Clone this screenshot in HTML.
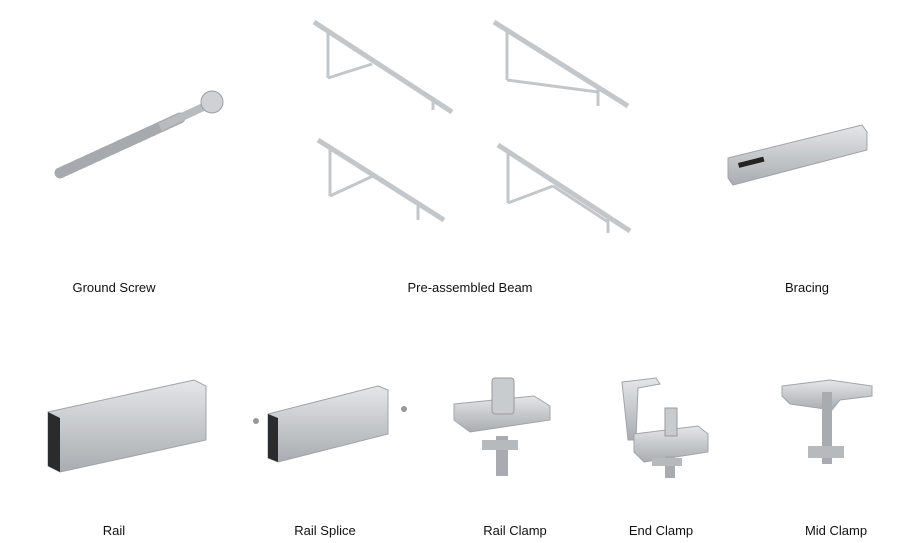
<!DOCTYPE html>
<html><head><meta charset="utf-8"><style>
body{margin:0;width:900px;height:543px;background:#fff;overflow:hidden;position:relative;font-family:"Liberation Sans",Arial,sans-serif;}
.l{position:absolute;font-size:13px;color:#111;transform:translateX(-50%);white-space:nowrap}
svg{position:absolute;left:0;top:0}
</style></head><body>
<svg width="900" height="543" viewBox="0 0 900 543">
<defs>
<linearGradient id="m" x1="0" y1="0" x2="0" y2="1"><stop offset="0" stop-color="#e4e6e8"/><stop offset="1" stop-color="#a9adb1"/></linearGradient>
</defs>
<!-- Ground screw -->
<line x1="60" y1="173" x2="180" y2="118" stroke="#a6aaae" stroke-width="11" stroke-linecap="round" stroke-dasharray="3 2"/>
<line x1="160" y1="127" x2="212" y2="103" stroke="#b8bcbf" stroke-width="8"/>
<circle cx="212" cy="102" r="11" fill="#cfd2d4" stroke="#9a9ea2"/>
<!-- Beams -->
<g stroke="#c4c7ca" fill="none">
<line x1="314" y1="22" x2="452" y2="112" stroke-width="5"/><line x1="328" y1="32" x2="328" y2="78" stroke-width="3"/><line x1="328" y1="78" x2="372" y2="64" stroke-width="3"/><line x1="433" y1="100" x2="433" y2="110" stroke-width="3"/>
<line x1="494" y1="22" x2="628" y2="106" stroke-width="5"/><line x1="507" y1="30" x2="507" y2="80" stroke-width="3"/><line x1="507" y1="80" x2="598" y2="92" stroke-width="3"/><line x1="507" y1="30" x2="598" y2="92" stroke-width="0"/><line x1="598" y1="88" x2="598" y2="106" stroke-width="3"/>
<line x1="318" y1="140" x2="444" y2="220" stroke-width="5"/><line x1="330" y1="148" x2="330" y2="196" stroke-width="3"/><line x1="330" y1="196" x2="373" y2="176" stroke-width="3"/><line x1="418" y1="206" x2="418" y2="220" stroke-width="3"/>
<line x1="498" y1="145" x2="630" y2="231" stroke-width="5"/><line x1="508" y1="152" x2="508" y2="203" stroke-width="3"/><line x1="508" y1="203" x2="553" y2="186" stroke-width="3"/><line x1="553" y1="186" x2="608" y2="222" stroke-width="3"/><line x1="608" y1="218" x2="608" y2="233" stroke-width="3"/>
</g>
<!-- Bracing -->
<polygon points="728,158 862,125 867,132 867,150 733,185 728,178" fill="url(#m)" stroke="#a0a4a8"/>
<rect x="738" y="163" width="26" height="5" fill="#222" transform="rotate(-14 738 163)"/>
<!-- Rail -->
<polygon points="48,412 194,380 206,386 206,440 60,472 48,466" fill="url(#m)" stroke="#a0a4a8"/>
<polygon points="48,412 60,418 60,472 48,466" fill="#2a2b2d"/>
<!-- Rail splice -->
<polygon points="268,414 378,386 388,390 388,434 278,462 268,458" fill="url(#m)" stroke="#a0a4a8"/>
<polygon points="268,414 278,418 278,462 268,458" fill="#2a2b2d"/>
<circle cx="256" cy="421" r="3" fill="#999"/><circle cx="404" cy="409" r="3" fill="#999"/>
<!-- Rail clamp -->
<polygon points="454,404 534,396 550,406 550,420 470,432 454,420" fill="url(#m)" stroke="#a0a4a8"/>
<rect x="492" y="378" width="22" height="36" rx="3" fill="#c9ccce" stroke="#999"/>
<rect x="496" y="436" width="12" height="40" fill="#a8acb0"/><rect x="482" y="440" width="36" height="10" fill="#b7babd"/>
<!-- End clamp -->
<polygon points="622,382 656,378 660,384 638,388 636,440 628,440" fill="url(#m)" stroke="#a0a4a8"/>
<polygon points="634,434 698,426 708,434 708,452 644,462 634,452" fill="url(#m)" stroke="#a0a4a8"/>
<rect x="665" y="408" width="12" height="28" fill="#c9ccce" stroke="#999"/>
<rect x="665" y="456" width="10" height="22" fill="#a8acb0"/><rect x="652" y="458" width="30" height="8" fill="#b7babd"/>
<!-- Mid clamp -->
<polygon points="782,386 830,380 872,386 872,396 840,400 832,410 790,404 782,396" fill="url(#m)" stroke="#a0a4a8"/>
<rect x="822" y="392" width="10" height="72" fill="#a8acb0"/><rect x="808" y="446" width="36" height="12" fill="#b7babd"/>
</svg>
<div class="l" style="left:114px;top:280px">Ground Screw</div>
<div class="l" style="left:470px;top:280px">Pre-assembled Beam</div>
<div class="l" style="left:807px;top:280px">Bracing</div>
<div class="l" style="left:114px;top:523px">Rail</div>
<div class="l" style="left:325px;top:523px">Rail Splice</div>
<div class="l" style="left:515px;top:523px">Rail Clamp</div>
<div class="l" style="left:661px;top:523px">End Clamp</div>
<div class="l" style="left:836px;top:523px">Mid Clamp</div>
</body></html>
